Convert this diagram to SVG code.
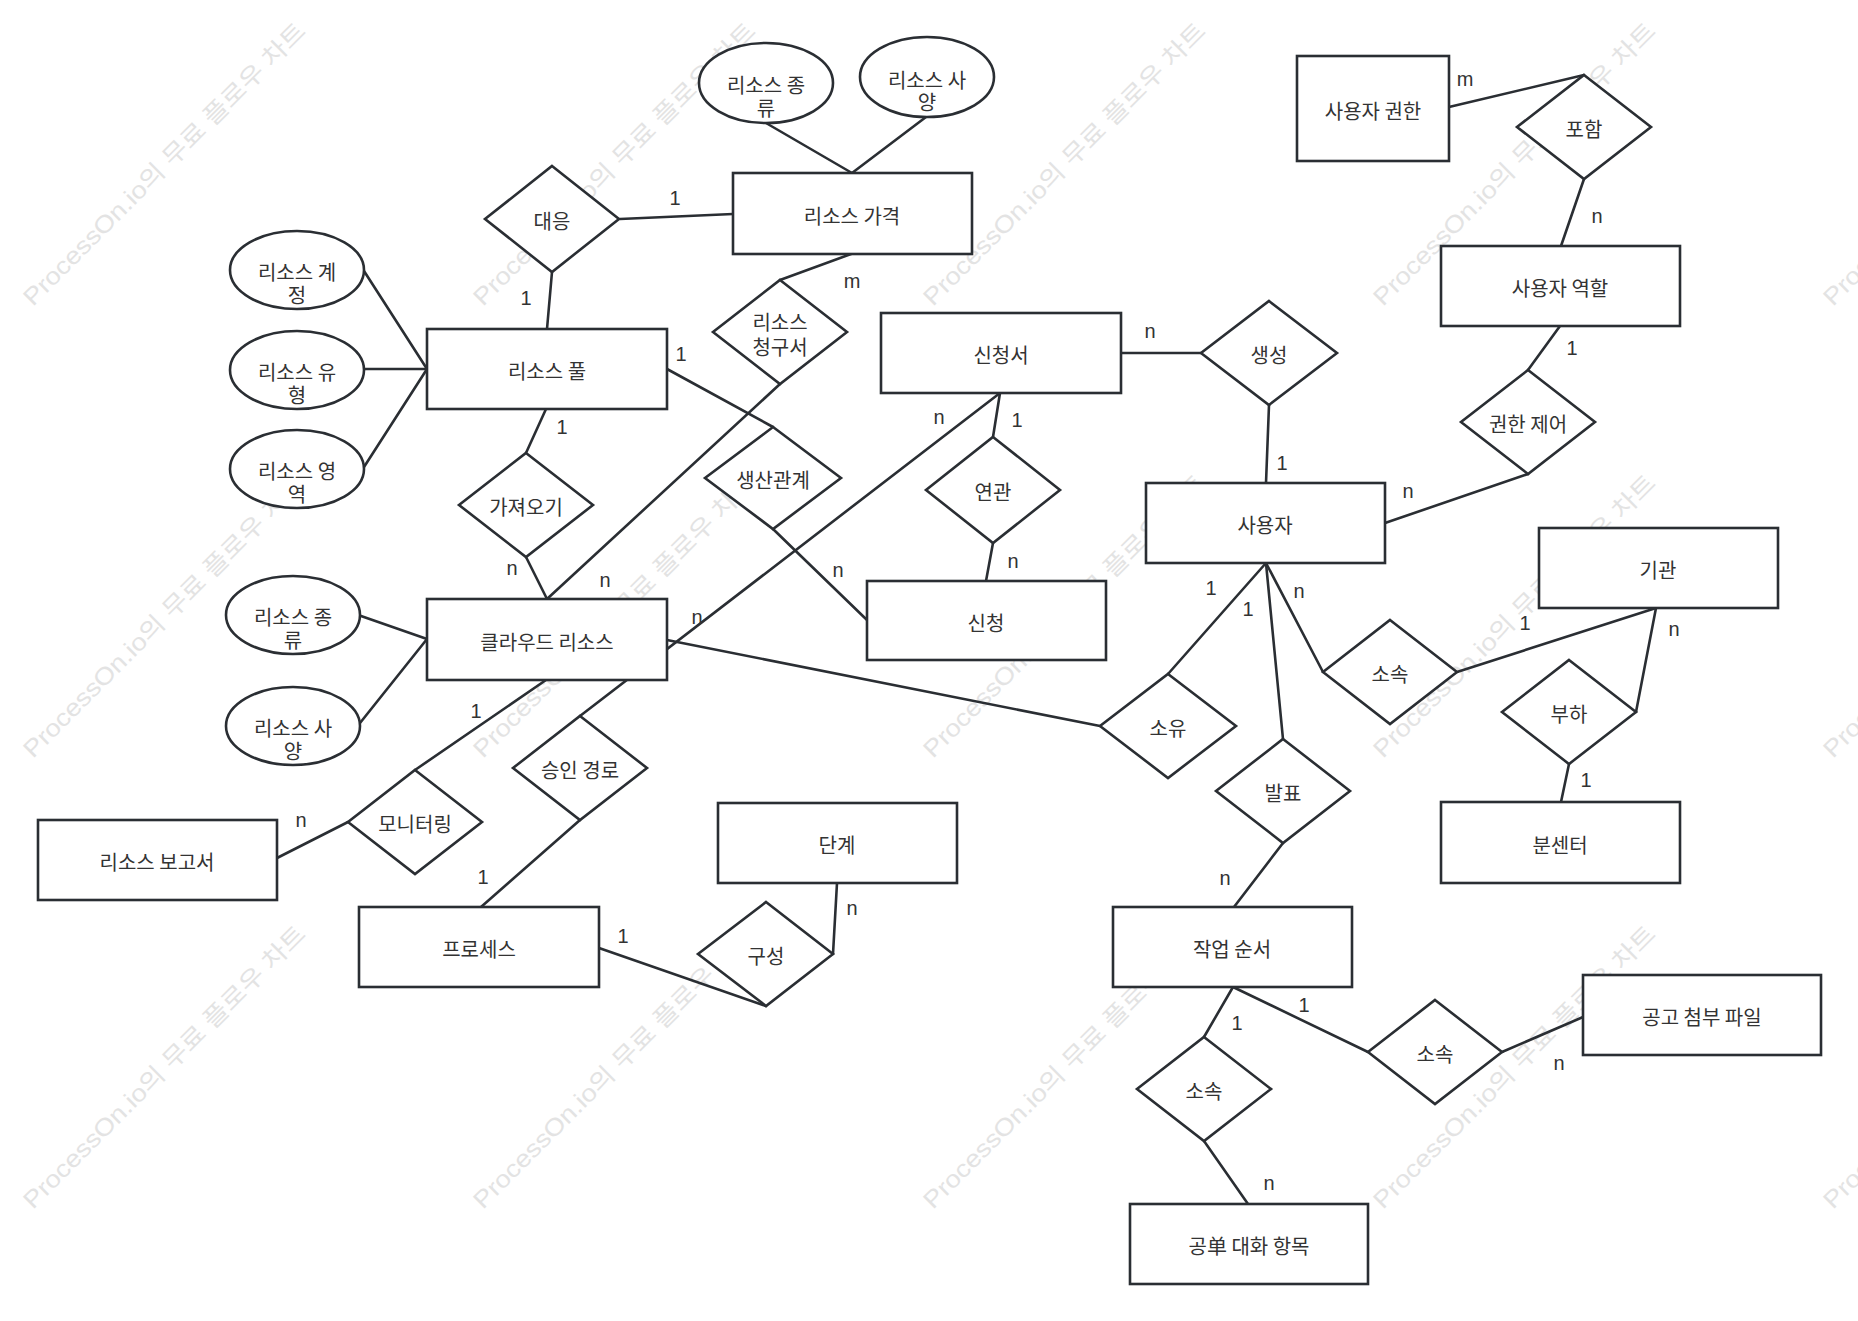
<svg xmlns="http://www.w3.org/2000/svg" width="1858" height="1321" viewBox="0 0 1858 1321">
<style>
.sh{fill:#fff;stroke:#2a2e33;stroke-width:2.6}
.c line{stroke:#2a2e33;stroke-width:2.6;stroke-linecap:round}
text{font-family:"Noto Sans CJK KR","Noto Sans",sans-serif;font-size:20px;fill:#333;text-anchor:middle}
.k{font-family:"Liberation Sans","Noto Sans CJK KR",sans-serif;font-size:20px}
.wm{font-family:"Liberation Sans","Noto Sans CJK KR",sans-serif;font-size:24px;fill:#e3e3e3;text-anchor:start}
</style>
<rect width="1858" height="1321" fill="#fff"/>
<g id="watermarks">
<text class="wm" transform="translate(33,307) rotate(-45)" textLength="388" lengthAdjust="spacingAndGlyphs">ProcessOn.io의 무료 플로우 차트</text>
<text class="wm" transform="translate(483,307) rotate(-45)" textLength="388" lengthAdjust="spacingAndGlyphs">ProcessOn.io의 무료 플로우 차트</text>
<text class="wm" transform="translate(933,307) rotate(-45)" textLength="388" lengthAdjust="spacingAndGlyphs">ProcessOn.io의 무료 플로우 차트</text>
<text class="wm" transform="translate(1383,307) rotate(-45)" textLength="388" lengthAdjust="spacingAndGlyphs">ProcessOn.io의 무료 플로우 차트</text>
<text class="wm" transform="translate(1833,307) rotate(-45)" textLength="388" lengthAdjust="spacingAndGlyphs">ProcessOn.io의 무료 플로우 차트</text>
<text class="wm" transform="translate(33,759) rotate(-45)" textLength="388" lengthAdjust="spacingAndGlyphs">ProcessOn.io의 무료 플로우 차트</text>
<text class="wm" transform="translate(483,759) rotate(-45)" textLength="388" lengthAdjust="spacingAndGlyphs">ProcessOn.io의 무료 플로우 차트</text>
<text class="wm" transform="translate(933,759) rotate(-45)" textLength="388" lengthAdjust="spacingAndGlyphs">ProcessOn.io의 무료 플로우 차트</text>
<text class="wm" transform="translate(1383,759) rotate(-45)" textLength="388" lengthAdjust="spacingAndGlyphs">ProcessOn.io의 무료 플로우 차트</text>
<text class="wm" transform="translate(1833,759) rotate(-45)" textLength="388" lengthAdjust="spacingAndGlyphs">ProcessOn.io의 무료 플로우 차트</text>
<text class="wm" transform="translate(33,1210) rotate(-45)" textLength="388" lengthAdjust="spacingAndGlyphs">ProcessOn.io의 무료 플로우 차트</text>
<text class="wm" transform="translate(483,1210) rotate(-45)" textLength="388" lengthAdjust="spacingAndGlyphs">ProcessOn.io의 무료 플로우 차트</text>
<text class="wm" transform="translate(933,1210) rotate(-45)" textLength="388" lengthAdjust="spacingAndGlyphs">ProcessOn.io의 무료 플로우 차트</text>
<text class="wm" transform="translate(1383,1210) rotate(-45)" textLength="388" lengthAdjust="spacingAndGlyphs">ProcessOn.io의 무료 플로우 차트</text>
<text class="wm" transform="translate(1833,1210) rotate(-45)" textLength="388" lengthAdjust="spacingAndGlyphs">ProcessOn.io의 무료 플로우 차트</text>
</g>
<g id="connectors" class="c">
<line x1="766" y1="123" x2="852" y2="173"/>
<line x1="926" y1="117" x2="852" y2="173"/>
<line x1="620" y1="219" x2="733" y2="214"/>
<line x1="552" y1="272" x2="547" y2="329"/>
<line x1="364" y1="271" x2="427" y2="369"/>
<line x1="364" y1="369" x2="427" y2="369"/>
<line x1="364" y1="467" x2="427" y2="369"/>
<line x1="851" y1="254" x2="780" y2="280"/>
<line x1="780" y1="384" x2="547" y2="599"/>
<line x1="667" y1="369" x2="773" y2="427"/>
<line x1="773" y1="529" x2="867" y2="620"/>
<line x1="546" y1="409" x2="526" y2="453"/>
<line x1="526" y1="557" x2="547" y2="599"/>
<line x1="1121" y1="353" x2="1201" y2="353"/>
<line x1="1000" y1="393" x2="580" y2="716"/>
<line x1="1000" y1="393" x2="993" y2="437"/>
<line x1="993" y1="543" x2="986" y2="581"/>
<line x1="1269" y1="405" x2="1266" y2="483"/>
<line x1="1449" y1="107" x2="1584" y2="75"/>
<line x1="1584" y1="179" x2="1561" y2="246"/>
<line x1="1560" y1="326" x2="1528" y2="370"/>
<line x1="1528" y1="474" x2="1385" y2="523"/>
<line x1="1266" y1="563" x2="1323" y2="672"/>
<line x1="1457" y1="672" x2="1656" y2="608"/>
<line x1="1656" y1="608" x2="1636" y2="712"/>
<line x1="1569" y1="764" x2="1561" y2="802"/>
<line x1="1266" y1="563" x2="1283" y2="739"/>
<line x1="1266" y1="563" x2="1168" y2="674"/>
<line x1="667" y1="640" x2="1100" y2="726"/>
<line x1="1283" y1="843" x2="1234" y2="907"/>
<line x1="546" y1="680" x2="415" y2="770"/>
<line x1="348" y1="822" x2="277" y2="858"/>
<line x1="580" y1="820" x2="481" y2="907"/>
<line x1="599" y1="948" x2="766" y2="1006"/>
<line x1="833" y1="954" x2="837" y2="883"/>
<line x1="1233" y1="987" x2="1204" y2="1037"/>
<line x1="1233" y1="987" x2="1368" y2="1052"/>
<line x1="1204" y1="1141" x2="1248" y2="1204"/>
<line x1="1502" y1="1052" x2="1583" y2="1017"/>
<line x1="427" y1="639" x2="361" y2="616"/>
<line x1="427" y1="639" x2="360" y2="723"/>
<g id="cardinalities">
<text class="k" x="675" y="205">1</text>
<text class="k" x="526" y="305">1</text>
<text class="k" x="852" y="288">m</text>
<text class="k" x="605" y="587">n</text>
<text class="k" x="681" y="361">1</text>
<text class="k" x="838" y="577">n</text>
<text class="k" x="562" y="434">1</text>
<text class="k" x="512" y="575">n</text>
<text class="k" x="1150" y="338">n</text>
<text class="k" x="939" y="424">n</text>
<text class="k" x="1017" y="427">1</text>
<text class="k" x="1013" y="568">n</text>
<text class="k" x="1282" y="470">1</text>
<text class="k" x="1465" y="86">m</text>
<text class="k" x="1597" y="223">n</text>
<text class="k" x="1572" y="355">1</text>
<text class="k" x="1408" y="498">n</text>
<text class="k" x="1299" y="598">n</text>
<text class="k" x="1525" y="630">1</text>
<text class="k" x="1674" y="636">n</text>
<text class="k" x="1586" y="787">1</text>
<text class="k" x="1248" y="616">1</text>
<text class="k" x="1211" y="595">1</text>
<text class="k" x="697" y="624">n</text>
<text class="k" x="1225" y="885">n</text>
<text class="k" x="476" y="718">1</text>
<text class="k" x="301" y="827">n</text>
<text class="k" x="483" y="884">1</text>
<text class="k" x="623" y="943">1</text>
<text class="k" x="852" y="915">n</text>
<text class="k" x="1237" y="1030">1</text>
<text class="k" x="1304" y="1012">1</text>
<text class="k" x="1269" y="1190">n</text>
<text class="k" x="1559" y="1070">n</text>
</g>
</g>
<g id="n-resource-kind-top"><ellipse class="sh" cx="766" cy="83" rx="67" ry="40"/><text x="766" y="93">리소스 종</text><text x="766" y="116">류</text></g>
<g id="n-resource-spec-top"><ellipse class="sh" cx="927" cy="77" rx="67" ry="40"/><text x="927" y="88">리소스 사</text><text x="927" y="110">양</text></g>
<g id="n-resource-account"><ellipse class="sh" cx="297" cy="270" rx="67" ry="39"/><text x="297" y="280">리소스 계</text><text x="297" y="303">정</text></g>
<g id="n-resource-type"><ellipse class="sh" cx="297" cy="370" rx="67" ry="39"/><text x="297" y="380">리소스 유</text><text x="297" y="403">형</text></g>
<g id="n-resource-region"><ellipse class="sh" cx="297" cy="469" rx="67" ry="39"/><text x="297" y="479">리소스 영</text><text x="297" y="502">역</text></g>
<g id="n-resource-kind-left"><ellipse class="sh" cx="293" cy="615" rx="67" ry="39"/><text x="293" y="625">리소스 종</text><text x="293" y="648">류</text></g>
<g id="n-resource-spec-left"><ellipse class="sh" cx="293" cy="726" rx="67" ry="39"/><text x="293" y="736">리소스 사</text><text x="293" y="759">양</text></g>
<g id="n-resource-price"><rect class="sh" x="733" y="173" width="239" height="81"/><text x="852" y="224">리소스 가격</text></g>
<g id="n-resource-pool"><rect class="sh" x="427" y="329" width="240" height="80"/><text x="547" y="379">리소스 풀</text></g>
<g id="n-cloud-resource"><rect class="sh" x="427" y="599" width="240" height="81"/><text x="547" y="650">클라우드 리소스</text></g>
<g id="n-resource-report"><rect class="sh" x="38" y="820" width="239" height="80"/><text x="157" y="870">리소스 보고서</text></g>
<g id="n-process"><rect class="sh" x="359" y="907" width="240" height="80"/><text x="479" y="957">프로세스</text></g>
<g id="n-stage"><rect class="sh" x="718" y="803" width="239" height="80"/><text x="837" y="853">단계</text></g>
<g id="n-application-form"><rect class="sh" x="881" y="313" width="240" height="80"/><text x="1001" y="363">신청서</text></g>
<g id="n-application"><rect class="sh" x="867" y="581" width="239" height="79"/><text x="986" y="631">신청</text></g>
<g id="n-user"><rect class="sh" x="1146" y="483" width="239" height="80"/><text x="1265" y="533">사용자</text></g>
<g id="n-user-permission"><rect class="sh" x="1297" y="56" width="152" height="105"/><text x="1373" y="119">사용자 권한</text></g>
<g id="n-user-role"><rect class="sh" x="1441" y="246" width="239" height="80"/><text x="1560" y="296">사용자 역할</text></g>
<g id="n-organization"><rect class="sh" x="1539" y="528" width="239" height="80"/><text x="1658" y="578">기관</text></g>
<g id="n-branch"><rect class="sh" x="1441" y="802" width="239" height="81"/><text x="1560" y="853">분센터</text></g>
<g id="n-work-order"><rect class="sh" x="1113" y="907" width="239" height="80"/><text x="1232" y="957">작업 순서</text></g>
<g id="n-notice-attachment"><rect class="sh" x="1583" y="975" width="238" height="80"/><text x="1702" y="1025">공고 첨부 파일</text></g>
<g id="n-ticket-dialog"><rect class="sh" x="1130" y="1204" width="238" height="80"/><text x="1249" y="1254">공单 대화 항목</text></g>
<g id="r-correspond"><polygon class="sh" points="552,166 619,219 552,272 485,219"/><text x="552" y="229">대응</text></g>
<g id="r-resource-bill"><polygon class="sh" points="780,280 847,332 780,384 713,332"/><text x="780" y="330">리소스</text><text x="780" y="355">청구서</text></g>
<g id="r-production"><polygon class="sh" points="773,427 841,478 773,529 705,478"/><text x="773" y="488">생산관계</text></g>
<g id="r-fetch"><polygon class="sh" points="526,453 593,505 526,557 459,505"/><text x="526" y="515">가져오기</text></g>
<g id="r-associate"><polygon class="sh" points="993,437 1060,490 993,543 926,490"/><text x="993" y="500">연관</text></g>
<g id="r-create"><polygon class="sh" points="1269,301 1337,353 1269,405 1201,353"/><text x="1269" y="363">생성</text></g>
<g id="r-include"><polygon class="sh" points="1584,75 1651,127 1584,179 1517,127"/><text x="1584" y="137">포함</text></g>
<g id="r-permission-control"><polygon class="sh" points="1528,370 1595,422 1528,474 1461,422"/><text x="1528" y="432">권한 제어</text></g>
<g id="r-belong-user"><polygon class="sh" points="1390,620 1457,672 1390,724 1323,672"/><text x="1390" y="682">소속</text></g>
<g id="r-subordinate"><polygon class="sh" points="1569,660 1636,712 1569,764 1502,712"/><text x="1569" y="722">부하</text></g>
<g id="r-own"><polygon class="sh" points="1168,674 1236,726 1168,778 1100,726"/><text x="1168" y="736">소유</text></g>
<g id="r-publish"><polygon class="sh" points="1283,739 1350,791 1283,843 1216,791"/><text x="1283" y="801">발표</text></g>
<g id="r-monitoring"><polygon class="sh" points="415,770 482,822 415,874 348,822"/><text x="415" y="832">모니터링</text></g>
<g id="r-approval-path"><polygon class="sh" points="580,716 647,768 580,820 513,768"/><text x="580" y="778">승인 경로</text></g>
<g id="r-compose"><polygon class="sh" points="766,902 833,954 766,1006 698,954"/><text x="766" y="964">구성</text></g>
<g id="r-belong-ticket"><polygon class="sh" points="1204,1037 1271,1089 1204,1141 1137,1089"/><text x="1204" y="1099">소속</text></g>
<g id="r-belong-attachment"><polygon class="sh" points="1435,1000 1502,1052 1435,1104 1368,1052"/><text x="1435" y="1062">소속</text></g>
</svg>
